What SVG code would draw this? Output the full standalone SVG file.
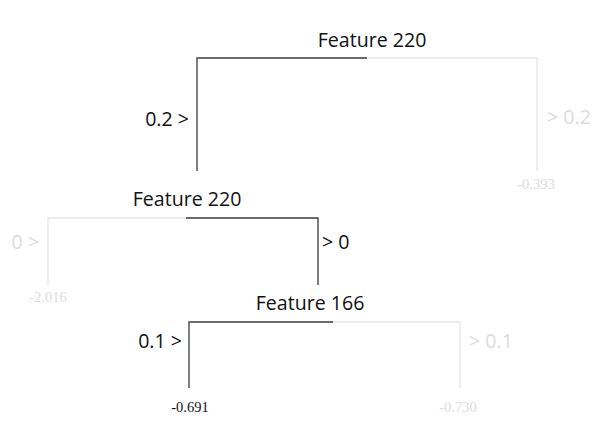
<svg xmlns="http://www.w3.org/2000/svg" width="599" height="429" viewBox="0 0 599 429">
<style>
.t{font-family:"Open Sans","Liberation Sans",sans-serif;font-size:19.6px;fill:#111}
.tl{font-family:"Open Sans","Liberation Sans",sans-serif;font-size:19.6px;fill:#dcdcdc}
.v{font-family:"Liberation Serif",serif;font-size:14.5px;fill:#111}
.vl{font-family:"Liberation Serif",serif;font-size:14.5px;fill:#dcdcdc}
.d{stroke:#3a3a3a;stroke-width:1.3;fill:none}
.l{stroke:#e6e6e6;stroke-width:1.3;fill:none}
</style>
<rect width="599" height="429" fill="#fff"/>
<g id="connectors">
<path class="l" d="M367 58H537V171"/>
<path class="d" d="M367 58H197V171"/>
<path class="l" d="M186 218H48V285"/>
<path class="d" d="M186 218H318V285"/>
<path class="l" d="M333 322H460V388"/>
<path class="d" d="M333 322H189V388"/>
</g>
<g id="node1">
<text class="t" x="372" y="47" text-anchor="middle">Feature 220</text>
<text class="t" x="189" y="126" text-anchor="end">0.2 &gt;</text>
<text class="tl" x="547" y="124">&gt; 0.2</text>
</g>
<g id="leaf1"><text class="vl" x="536" y="189" text-anchor="middle">-0.393</text></g>
<g id="node2">
<text class="t" x="187" y="206" text-anchor="middle">Feature 220</text>
<text class="tl" x="39" y="249" text-anchor="end">0 &gt;</text>
<text class="t" x="322" y="249">&gt; 0</text>
</g>
<g id="leaf2"><text class="vl" x="48" y="302" text-anchor="middle">-2.016</text></g>
<g id="node3">
<text class="t" x="310" y="310" text-anchor="middle">Feature 166</text>
<text class="t" x="182" y="348" text-anchor="end">0.1 &gt;</text>
<text class="tl" x="469" y="348">&gt; 0.1</text>
</g>
<g id="leaf3"><text class="v" x="190" y="412" text-anchor="middle">-0.691</text></g>
<g id="leaf4"><text class="vl" x="458" y="412" text-anchor="middle">-0.730</text></g>
</svg>
